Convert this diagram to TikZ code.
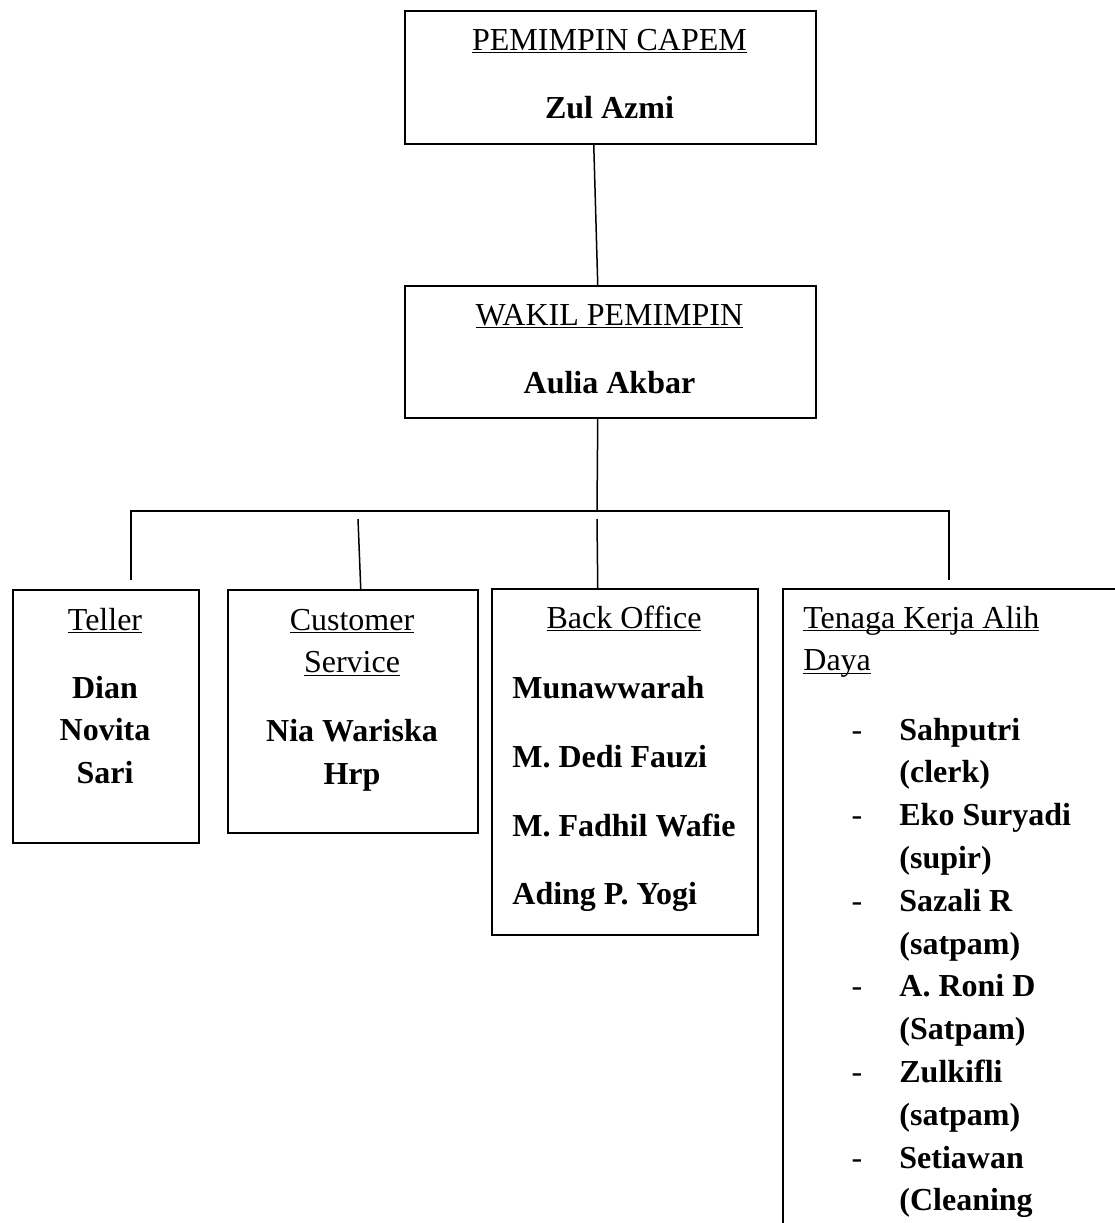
\documentclass[tikz,border=0pt]{standalone}
\usepackage{fontspec}
\setmainfont{Liberation Serif}
\usetikzlibrary{positioning}
\newcommand{\undl}[1]{\leavevmode\setbox0\hbox{#1}\rlap{\rule[-1.6pt]{\wd0}{0.7pt}}\box0}
\newcommand{\dsh}{\llap{\mdseries -\hspace{18.5pt}}}

\begin{document}
\fontsize{16pt}{21.4pt}\selectfont
\begin{tikzpicture}[
    x=0.5pt, y=-0.5pt,
    box/.style={draw, line width=0.75pt, anchor=north west, inner sep=0pt},
    title/.style={anchor=base, inner sep=0pt, align=center},
    staff/.style={anchor=base, inner sep=0pt, align=center, font=\bfseries},
    link/.style={line width=0.75pt},
]
    \useasboundingbox (0,0) rectangle (1115,1223);
    \fill[white] (0,0) rectangle (1115,1223);
    \clip (0,0) rectangle (1115,1223);

    % boxes
    \node[box, minimum width=205.5pt, minimum height=66.5pt] (capem) at (404,10) {};
    \node[box, minimum width=205.5pt, minimum height=66pt] (wakil) at (404,285) {};
    \node[box, minimum width=93pt, minimum height=126.5pt] (teller) at (12,589) {};
    \node[box, minimum width=125pt, minimum height=121.5pt] (cs) at (227,589) {};
    \node[box, minimum width=133pt, minimum height=173pt] (backoff) at (491,588) {};
    \node[box, minimum width=200pt, minimum height=350pt] (tkad) at (782,588) {};

    % texts (multi-line nodes sit on their last line)
    \node[title] (capem-t) at (609.5,50) {\undl{PEMIMPIN CAPEM}};
    \node[staff] (capem-n) at (609.5,118) {Zul Azmi};
    \node[title] (wakil-t) at (609.5,325) {\undl{WAKIL PEMIMPIN}};
    \node[staff] (wakil-n) at (609.5,393) {Aulia Akbar};
    \node[title] (teller-t) at (105,630) {\undl{Teller}};
    \node[staff] (teller-n) at (105,783.6) {Dian\\Novita\\Sari};
    \node[title] (cs-t) at (352,672.8) {\undl{Customer}\\\undl{Service}};
    \node[staff] (cs-n) at (352,784) {Nia Wariska\\Hrp};
    \node[title] (backoff-t) at (624,628) {\undl{Back Office}};
    \node[staff, anchor=base west] (bo-1) at (512,698) {Munawwarah};
    \node[staff, anchor=base west] (bo-2) at (512,767) {M. Dedi Fauzi};
    \node[staff, anchor=base west] (bo-3) at (512,836) {M. Fadhil Wafie};
    \node[staff, anchor=base west] (bo-4) at (512,904) {Ading P. Yogi};
    \node[title, anchor=base west, align=left] (tkad-t) at (803,670.8)
        {\undl{Tenaga Kerja Alih}\\\undl{Daya}};
    \node[staff, anchor=base west, align=left] (tkad-n) at (899,1210.8)
        {\dsh Sahputri\\(clerk)\\\dsh Eko Suryadi\\(supir)\\\dsh Sazali R\\(satpam)\\
         \dsh A. Roni D\\(Satpam)\\\dsh Zulkifli\\(satpam)\\\dsh Setiawan\\(Cleaning};

    % connectors
    \coordinate (hub) at (597,511);
    \coordinate (hubL) at (131,511);
    \coordinate (hubR) at (949,511);
    \coordinate (tellerIn) at (131,580);
    \coordinate (tkadIn) at (949,580);
    \coordinate (csIn) at (358,519);
    \coordinate (boIn) at (597,519);
    \draw[link] ([xshift=-8.25pt]capem.south) -- ([xshift=-6.25pt]wakil.north);
    \draw[link] ([xshift=-6.25pt]wakil.south) -- (hub);
    \draw[link] (tellerIn) -- (hubL) -- (hubR) -- (tkadIn);
    \draw[link] (csIn) -- ([xshift=4pt]cs.north);
    \draw[link] (boIn) -- ([xshift=-13.5pt]backoff.north);
\end{tikzpicture}
\end{document}
